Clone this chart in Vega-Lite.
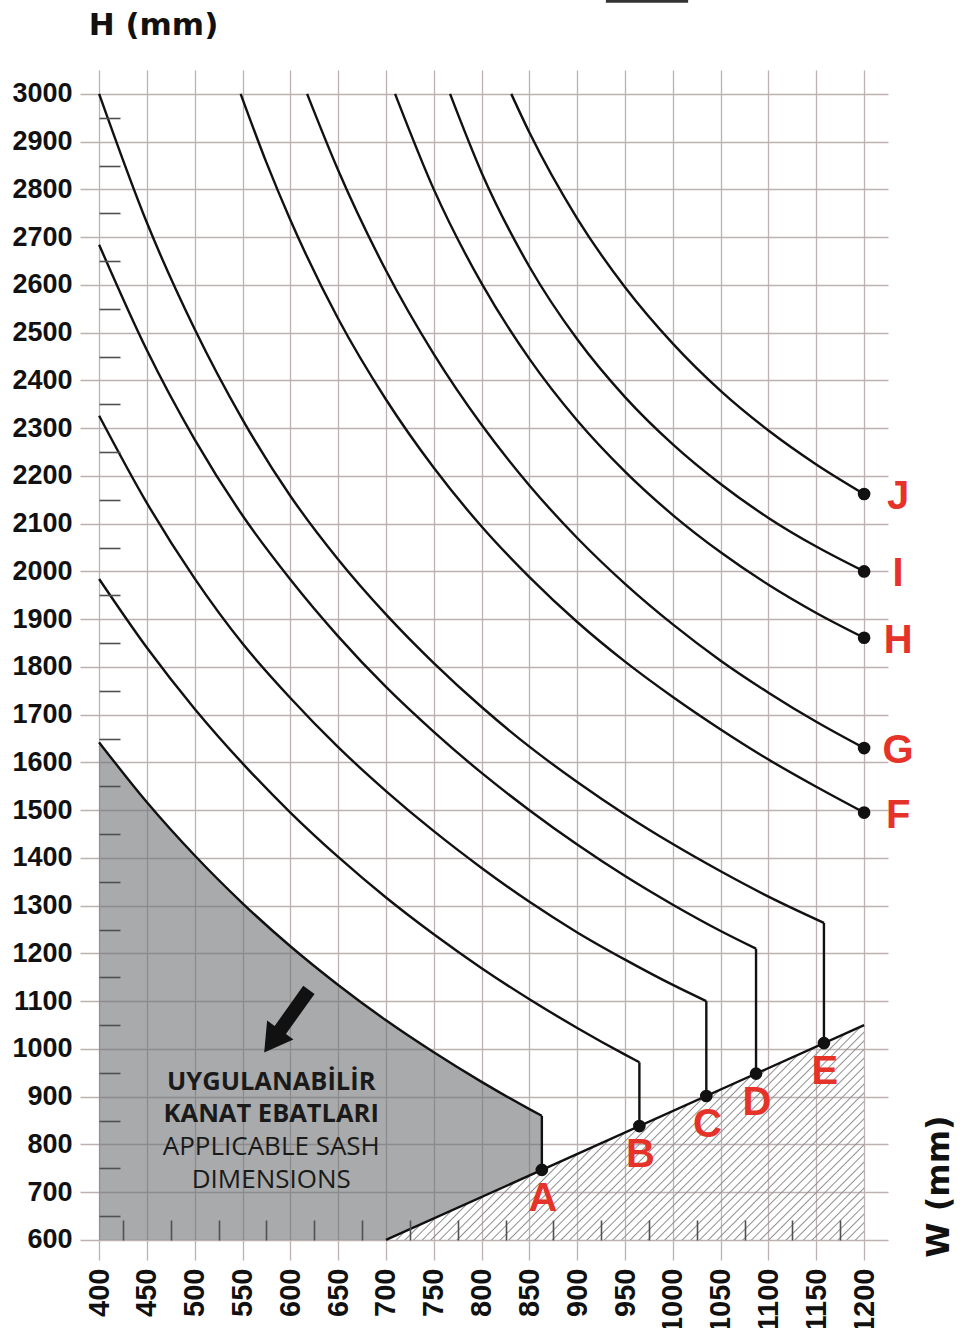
{
"$schema": "https://vega.github.io/schema/vega-lite/v6.json",
"width": 808, "height": 1190,
"autosize": {"type": "none"},
"padding": {"left": 80, "top": 70, "right": 85, "bottom": 68},
"background": "white",
"config": {"view": {"stroke": null}},
"data": {"values": [{}]},
"datasets": {
 "gray": [{"W":400,"H":1642,"lo":600},{"W":450,"H":1516.5,"lo":600},{"W":500,"H":1405,"lo":600},{"W":550,"H":1305,"lo":600},{"W":600,"H":1215,"lo":600},{"W":650,"H":1134,"lo":600},{"W":700,"H":1060,"lo":600},{"W":750,"H":993,"lo":645},{"W":800,"H":931,"lo":690},{"W":850,"H":874,"lo":735},{"W":863,"H":860,"lo":746.7}],
 "hatch": [{"W":700,"H":600,"lo":600},{"W":1200,"H":1050,"lo":600}],
 "curves": [
  {"c":"A","W":400,"H":1642},{"c":"A","W":450,"H":1516.5},{"c":"A","W":500,"H":1405},{"c":"A","W":550,"H":1305},{"c":"A","W":600,"H":1215},{"c":"A","W":650,"H":1134},{"c":"A","W":700,"H":1060},{"c":"A","W":750,"H":993},{"c":"A","W":800,"H":931},{"c":"A","W":850,"H":874},{"c":"A","W":863,"H":860},
  {"c":"B","W":400,"H":1984},{"c":"B","W":450,"H":1840},{"c":"B","W":500,"H":1712},{"c":"B","W":550,"H":1598},{"c":"B","W":600,"H":1495},{"c":"B","W":650,"H":1402},{"c":"B","W":700,"H":1317},{"c":"B","W":750,"H":1240},{"c":"B","W":800,"H":1169},{"c":"B","W":850,"H":1104},{"c":"B","W":900,"H":1044},{"c":"B","W":950,"H":988},{"c":"B","W":965,"H":972},
  {"c":"C","W":400,"H":2326},{"c":"C","W":450,"H":2143},{"c":"C","W":500,"H":1985},{"c":"C","W":550,"H":1849},{"c":"C","W":600,"H":1735},{"c":"C","W":650,"H":1632},{"c":"C","W":700,"H":1540},{"c":"C","W":750,"H":1456},{"c":"C","W":800,"H":1379},{"c":"C","W":850,"H":1308},{"c":"C","W":900,"H":1244},{"c":"C","W":950,"H":1187},{"c":"C","W":1000,"H":1134},{"c":"C","W":1035,"H":1100},
  {"c":"D","W":400,"H":2684},{"c":"D","W":450,"H":2463},{"c":"D","W":500,"H":2276},{"c":"D","W":550,"H":2117},{"c":"D","W":600,"H":1983},{"c":"D","W":650,"H":1864},{"c":"D","W":700,"H":1758},{"c":"D","W":750,"H":1664},{"c":"D","W":800,"H":1578},{"c":"D","W":850,"H":1500},{"c":"D","W":900,"H":1428},{"c":"D","W":950,"H":1362},{"c":"D","W":1000,"H":1302},{"c":"D","W":1050,"H":1247},{"c":"D","W":1087,"H":1210},
  {"c":"E","W":400,"H":3000},{"c":"E","W":450,"H":2730},{"c":"E","W":500,"H":2507},{"c":"E","W":550,"H":2318},{"c":"E","W":600,"H":2158},{"c":"E","W":650,"H":2025},{"c":"E","W":700,"H":1910},{"c":"E","W":750,"H":1808},{"c":"E","W":800,"H":1716},{"c":"E","W":850,"H":1633},{"c":"E","W":900,"H":1559},{"c":"E","W":950,"H":1491},{"c":"E","W":1000,"H":1429},{"c":"E","W":1050,"H":1372},{"c":"E","W":1100,"H":1319},{"c":"E","W":1158,"H":1264},
  {"c":"F","W":548,"H":3000},{"c":"F","W":575,"H":2856},{"c":"F","W":600,"H":2736},{"c":"F","W":650,"H":2529},{"c":"F","W":700,"H":2360},{"c":"F","W":750,"H":2217},{"c":"F","W":800,"H":2094},{"c":"F","W":850,"H":1988},{"c":"F","W":900,"H":1894},{"c":"F","W":950,"H":1811},{"c":"F","W":1000,"H":1737},{"c":"F","W":1050,"H":1669},{"c":"F","W":1100,"H":1606},{"c":"F","W":1150,"H":1549},{"c":"F","W":1200,"H":1495},
  {"c":"G","W":617.5,"H":3000},{"c":"G","W":650,"H":2840},{"c":"G","W":700,"H":2630},{"c":"G","W":750,"H":2455},{"c":"G","W":800,"H":2307},{"c":"G","W":850,"H":2180},{"c":"G","W":900,"H":2070},{"c":"G","W":950,"H":1974},{"c":"G","W":1000,"H":1889},{"c":"G","W":1050,"H":1813},{"c":"G","W":1100,"H":1746},{"c":"G","W":1150,"H":1685},{"c":"G","W":1200,"H":1630},
  {"c":"H","W":709.5,"H":3000},{"c":"H","W":750,"H":2800},{"c":"H","W":800,"H":2603},{"c":"H","W":850,"H":2445},{"c":"H","W":900,"H":2316},{"c":"H","W":950,"H":2209},{"c":"H","W":1000,"H":2118},{"c":"H","W":1050,"H":2040},{"c":"H","W":1100,"H":1972},{"c":"H","W":1150,"H":1913},{"c":"H","W":1200,"H":1861},
  {"c":"I","W":767,"H":3000},{"c":"I","W":800,"H":2835},{"c":"I","W":850,"H":2638},{"c":"I","W":900,"H":2486},{"c":"I","W":950,"H":2365},{"c":"I","W":1000,"H":2266},{"c":"I","W":1050,"H":2183},{"c":"I","W":1100,"H":2112},{"c":"I","W":1150,"H":2052},{"c":"I","W":1200,"H":2000},
  {"c":"J","W":831,"H":3000},{"c":"J","W":850,"H":2919},{"c":"J","W":900,"H":2739},{"c":"J","W":950,"H":2595},{"c":"J","W":1000,"H":2477},{"c":"J","W":1050,"H":2378},{"c":"J","W":1100,"H":2295},{"c":"J","W":1150,"H":2224},{"c":"J","W":1200,"H":2162}
 ],
 "verticals": [{"c":"A","W":863,"H":860,"H2":746.7},{"c":"B","W":965,"H":972,"H2":838.5},{"c":"C","W":1035,"H":1100,"H2":901.5},{"c":"D","W":1087,"H":1210,"H2":948.3},{"c":"E","W":1158,"H":1264,"H2":1012.2}],
 "points": [{"p":"A","W":863,"H":746.7,"g":"low"},{"p":"B","W":965,"H":838.5,"g":"low"},{"p":"C","W":1035,"H":901.5,"g":"low"},{"p":"D","W":1087,"H":948.3,"g":"low"},{"p":"E","W":1158,"H":1012.2,"g":"low"},{"p":"F","W":1200,"H":1495,"g":"high"},{"p":"G","W":1200,"H":1630,"g":"high"},{"p":"H","W":1200,"H":1861,"g":"high"},{"p":"I","W":1200,"H":2000,"g":"high"},{"p":"J","W":1200,"H":2162,"g":"high"}],
 "noteTr": [{"t":"UYGULANABİLİR","W":580,"H":931},{"t":"KANAT EBATLARI","W":580,"H":864}],
 "noteEn": [{"t":"APPLICABLE SASH","W":580,"H":795},{"t":"DIMENSIONS","W":580,"H":726}],
 "arrow": [{"W":596,"H":1058}],
 "topline": [{"W":930,"W2":1016,"H":3194}]
},
"encoding": {
 "x": {"field": "W", "type": "quantitative", "scale": {"domain": [380, 1225], "nice": false, "zero": false}, "axis": null},
 "y": {"field": "H", "type": "quantitative", "scale": {"domain": [558, 3050], "nice": false, "zero": false}, "axis": null}
},
"layer": [
 {
  "data": {"name": "gray"},
  "mark": {"type": "area", "interpolate": "linear", "color": "#6e7175", "fillOpacity": 0.6},
  "encoding": {
   "x": {"field": "W", "type": "quantitative", "scale": {"domain": [380, 1225], "nice": false, "zero": false},
    "axis": {"orient": "bottom", "values": [400,450,500,550,600,650,700,750,800,850,900,950,1000,1050,1100,1150,1200], "format": "d",
     "grid": true, "gridColor": "#bdb1b1", "gridWidth": 1.3, "domain": false, "ticks": false, "tickSize": 0,
     "labelAngle": 270, "labelAlign": "right", "labelBaseline": "middle", "labelPadding": 8,
     "labelFont": "Liberation Sans", "labelFontWeight": "bold", "labelFontSize": 29, "labelColor": "#111",
     "labelOverlap": false, "labelFlush": false,
     "title": "W (mm)", "titleFont": "DejaVu Sans", "titleFontWeight": "bold", "titleFontSize": 32, "titleColor": "#111",
     "titleAngle": 270, "titleAlign": "center", "titleBaseline": "middle", "titleX": 858, "titleY": -74}},
   "y": {"field": "H", "type": "quantitative", "scale": {"domain": [558, 3050], "nice": false, "zero": false},
    "axis": {"orient": "left", "values": [600,700,800,900,1000,1100,1200,1300,1400,1500,1600,1700,1800,1900,2000,2100,2200,2300,2400,2500,2600,2700,2800,2900,3000], "format": "d",
     "grid": true, "gridColor": "#bdb1b1", "gridWidth": 1.3, "domain": false, "ticks": false, "tickSize": 0,
     "labelPadding": 8, "labelFont": "Liberation Sans", "labelFontWeight": "bold", "labelFontSize": 27, "labelColor": "#111",
     "labelOverlap": false, "labelFlush": false,
     "title": "H (mm)", "titleFont": "DejaVu Sans", "titleFontWeight": "bold", "titleFontSize": 31, "titleColor": "#111",
     "titleAngle": 0, "titleAlign": "center", "titleBaseline": "middle", "titleX": 73, "titleY": -45}},
   "y2": {"field": "lo"}
  }
 },
 {
  "data": {"name": "hatch"},
  "mark": {"type": "area", "interpolate": "linear",
   "fill": {"gradient": "linear", "x1": 0, "y1": 0, "x2": 1.206, "y2": 0.542, "stops": [
    {"offset":0,"color":"#8e8e8e00"},
    {"offset":0.3105,"color":"#8e8e8e00"},{"offset":0.3125,"color":"#8e8e8e"},{"offset":0.3145,"color":"#8e8e8e00"},
    {"offset":0.323,"color":"#8e8e8e00"},{"offset":0.325,"color":"#8e8e8e"},{"offset":0.327,"color":"#8e8e8e00"},
    {"offset":0.3355,"color":"#8e8e8e00"},{"offset":0.3375,"color":"#8e8e8e"},{"offset":0.3395,"color":"#8e8e8e00"},
    {"offset":0.348,"color":"#8e8e8e00"},{"offset":0.35,"color":"#8e8e8e"},{"offset":0.352,"color":"#8e8e8e00"},
    {"offset":0.3605,"color":"#8e8e8e00"},{"offset":0.3625,"color":"#8e8e8e"},{"offset":0.3645,"color":"#8e8e8e00"},
    {"offset":0.373,"color":"#8e8e8e00"},{"offset":0.375,"color":"#8e8e8e"},{"offset":0.377,"color":"#8e8e8e00"},
    {"offset":0.3855,"color":"#8e8e8e00"},{"offset":0.3875,"color":"#8e8e8e"},{"offset":0.3895,"color":"#8e8e8e00"},
    {"offset":0.398,"color":"#8e8e8e00"},{"offset":0.4,"color":"#8e8e8e"},{"offset":0.402,"color":"#8e8e8e00"},
    {"offset":0.4105,"color":"#8e8e8e00"},{"offset":0.4125,"color":"#8e8e8e"},{"offset":0.4145,"color":"#8e8e8e00"},
    {"offset":0.423,"color":"#8e8e8e00"},{"offset":0.425,"color":"#8e8e8e"},{"offset":0.427,"color":"#8e8e8e00"},
    {"offset":0.4355,"color":"#8e8e8e00"},{"offset":0.4375,"color":"#8e8e8e"},{"offset":0.4395,"color":"#8e8e8e00"},
    {"offset":0.448,"color":"#8e8e8e00"},{"offset":0.45,"color":"#8e8e8e"},{"offset":0.452,"color":"#8e8e8e00"},
    {"offset":0.4605,"color":"#8e8e8e00"},{"offset":0.4625,"color":"#8e8e8e"},{"offset":0.4645,"color":"#8e8e8e00"},
    {"offset":0.473,"color":"#8e8e8e00"},{"offset":0.475,"color":"#8e8e8e"},{"offset":0.477,"color":"#8e8e8e00"},
    {"offset":0.4855,"color":"#8e8e8e00"},{"offset":0.4875,"color":"#8e8e8e"},{"offset":0.4895,"color":"#8e8e8e00"},
    {"offset":0.498,"color":"#8e8e8e00"},{"offset":0.5,"color":"#8e8e8e"},{"offset":0.502,"color":"#8e8e8e00"},
    {"offset":0.5105,"color":"#8e8e8e00"},{"offset":0.5125,"color":"#8e8e8e"},{"offset":0.5145,"color":"#8e8e8e00"},
    {"offset":0.523,"color":"#8e8e8e00"},{"offset":0.525,"color":"#8e8e8e"},{"offset":0.527,"color":"#8e8e8e00"},
    {"offset":0.5355,"color":"#8e8e8e00"},{"offset":0.5375,"color":"#8e8e8e"},{"offset":0.5395,"color":"#8e8e8e00"},
    {"offset":0.548,"color":"#8e8e8e00"},{"offset":0.55,"color":"#8e8e8e"},{"offset":0.552,"color":"#8e8e8e00"},
    {"offset":0.5605,"color":"#8e8e8e00"},{"offset":0.5625,"color":"#8e8e8e"},{"offset":0.5645,"color":"#8e8e8e00"},
    {"offset":0.573,"color":"#8e8e8e00"},{"offset":0.575,"color":"#8e8e8e"},{"offset":0.577,"color":"#8e8e8e00"},
    {"offset":0.5855,"color":"#8e8e8e00"},{"offset":0.5875,"color":"#8e8e8e"},{"offset":0.5895,"color":"#8e8e8e00"},
    {"offset":0.598,"color":"#8e8e8e00"},{"offset":0.6,"color":"#8e8e8e"},{"offset":0.602,"color":"#8e8e8e00"},
    {"offset":0.6105,"color":"#8e8e8e00"},{"offset":0.6125,"color":"#8e8e8e"},{"offset":0.6145,"color":"#8e8e8e00"},
    {"offset":0.623,"color":"#8e8e8e00"},{"offset":0.625,"color":"#8e8e8e"},{"offset":0.627,"color":"#8e8e8e00"},
    {"offset":0.6355,"color":"#8e8e8e00"},{"offset":0.6375,"color":"#8e8e8e"},{"offset":0.6395,"color":"#8e8e8e00"},
    {"offset":0.648,"color":"#8e8e8e00"},{"offset":0.65,"color":"#8e8e8e"},{"offset":0.652,"color":"#8e8e8e00"},
    {"offset":0.6605,"color":"#8e8e8e00"},{"offset":0.6625,"color":"#8e8e8e"},{"offset":0.6645,"color":"#8e8e8e00"},
    {"offset":0.673,"color":"#8e8e8e00"},{"offset":0.675,"color":"#8e8e8e"},{"offset":0.677,"color":"#8e8e8e00"},
    {"offset":0.6855,"color":"#8e8e8e00"},{"offset":0.6875,"color":"#8e8e8e"},{"offset":0.6895,"color":"#8e8e8e00"},
    {"offset":0.698,"color":"#8e8e8e00"},{"offset":0.7,"color":"#8e8e8e"},{"offset":0.702,"color":"#8e8e8e00"},
    {"offset":0.7105,"color":"#8e8e8e00"},{"offset":0.7125,"color":"#8e8e8e"},{"offset":0.7145,"color":"#8e8e8e00"},
    {"offset":0.723,"color":"#8e8e8e00"},{"offset":0.725,"color":"#8e8e8e"},{"offset":0.727,"color":"#8e8e8e00"},
    {"offset":0.7355,"color":"#8e8e8e00"},{"offset":0.7375,"color":"#8e8e8e"},{"offset":0.7395,"color":"#8e8e8e00"},
    {"offset":0.748,"color":"#8e8e8e00"},{"offset":0.75,"color":"#8e8e8e"},{"offset":0.752,"color":"#8e8e8e00"},
    {"offset":0.7605,"color":"#8e8e8e00"},{"offset":0.7625,"color":"#8e8e8e"},{"offset":0.7645,"color":"#8e8e8e00"},
    {"offset":0.773,"color":"#8e8e8e00"},{"offset":0.775,"color":"#8e8e8e"},{"offset":0.777,"color":"#8e8e8e00"},
    {"offset":0.7855,"color":"#8e8e8e00"},{"offset":0.7875,"color":"#8e8e8e"},{"offset":0.7895,"color":"#8e8e8e00"},
    {"offset":0.798,"color":"#8e8e8e00"},{"offset":0.8,"color":"#8e8e8e"},{"offset":0.802,"color":"#8e8e8e00"},
    {"offset":0.8105,"color":"#8e8e8e00"},{"offset":0.8125,"color":"#8e8e8e"},{"offset":0.8145,"color":"#8e8e8e00"},
    {"offset":0.823,"color":"#8e8e8e00"},{"offset":0.825,"color":"#8e8e8e"},{"offset":0.827,"color":"#8e8e8e00"},
    {"offset":0.8355,"color":"#8e8e8e00"},{"offset":0.8375,"color":"#8e8e8e"},{"offset":0.8395,"color":"#8e8e8e00"},
    {"offset":0.848,"color":"#8e8e8e00"},{"offset":0.85,"color":"#8e8e8e"},{"offset":0.852,"color":"#8e8e8e00"},
    {"offset":0.8605,"color":"#8e8e8e00"},{"offset":0.8625,"color":"#8e8e8e"},{"offset":0.8645,"color":"#8e8e8e00"},
    {"offset":0.873,"color":"#8e8e8e00"},{"offset":0.875,"color":"#8e8e8e"},{"offset":0.877,"color":"#8e8e8e00"},
    {"offset":0.8855,"color":"#8e8e8e00"},{"offset":0.8875,"color":"#8e8e8e"},{"offset":0.8895,"color":"#8e8e8e00"},
    {"offset":0.898,"color":"#8e8e8e00"},{"offset":0.9,"color":"#8e8e8e"},{"offset":0.902,"color":"#8e8e8e00"},
    {"offset":0.9105,"color":"#8e8e8e00"},{"offset":0.9125,"color":"#8e8e8e"},{"offset":0.9145,"color":"#8e8e8e00"},
    {"offset":0.923,"color":"#8e8e8e00"},{"offset":0.925,"color":"#8e8e8e"},{"offset":0.927,"color":"#8e8e8e00"},
    {"offset":0.9355,"color":"#8e8e8e00"},{"offset":0.9375,"color":"#8e8e8e"},{"offset":0.9395,"color":"#8e8e8e00"},
    {"offset":0.948,"color":"#8e8e8e00"},{"offset":0.95,"color":"#8e8e8e"},{"offset":0.952,"color":"#8e8e8e00"},
    {"offset":0.9605,"color":"#8e8e8e00"},{"offset":0.9625,"color":"#8e8e8e"},{"offset":0.9645,"color":"#8e8e8e00"},
    {"offset":0.973,"color":"#8e8e8e00"},{"offset":0.975,"color":"#8e8e8e"},{"offset":0.977,"color":"#8e8e8e00"},
    {"offset":0.9855,"color":"#8e8e8e00"},{"offset":0.9875,"color":"#8e8e8e"},{"offset":0.9895,"color":"#8e8e8e00"},
    {"offset":1,"color":"#8e8e8e00"}
   ]}},
  "encoding": {
   "x": {"field": "W", "type": "quantitative", "scale": {"domain": [380, 1225], "nice": false, "zero": false},
    "axis": {"orient": "bottom", "values": [425,475,525,575,625,675,725,775,825,875,925,975,1025,1075,1125,1175],
     "grid": false, "labels": false, "domain": false, "ticks": true, "tickSize": -20, "tickWidth": 1.6, "tickColor": "#505050",
     "offset": -20, "title": null, "zindex": 1}},
   "y": {"field": "H", "type": "quantitative", "scale": {"domain": [558, 3050], "nice": false, "zero": false},
    "axis": {"orient": "left", "values": [650,750,850,950,1050,1150,1250,1350,1450,1550,1650,1750,1850,1950,2050,2150,2250,2350,2450,2550,2650,2750,2850,2950],
     "grid": false, "labels": false, "domain": false, "ticks": true, "tickSize": -21, "tickWidth": 1.6, "tickColor": "#505050",
     "offset": -19, "title": null, "zindex": 1}},
   "y2": {"field": "lo"}
  }
 },
 {
  "data": {"name": "noteTr"},
  "mark": {"type": "text", "font": "Open Sans", "fontWeight": "bold", "fontSize": 25.5, "align": "center", "baseline": "middle", "color": "#1a1a1a"},
  "encoding": {"text": {"field": "t"}}
 },
 {
  "data": {"name": "noteEn"},
  "mark": {"type": "text", "font": "Open Sans", "fontWeight": "normal", "fontSize": 26, "align": "center", "baseline": "middle", "color": "#1a1a1a"},
  "encoding": {"text": {"field": "t"}}
 },
 {
  "data": {"name": "arrow"},
  "mark": {"type": "point", "shape": "M-1,-0.18L0.28,-0.18L0.28,-0.42L1,0L0.28,0.42L0.28,0.18L-1,0.18Z", "size": 5929, "angle": 125.5, "filled": true, "color": "#111", "opacity": 1}
 },
 {
  "data": {"name": "topline"},
  "mark": {"type": "rule", "color": "#333", "strokeWidth": 3},
  "encoding": {"x2": {"field": "W2"}}
 },
 {
  "data": {"name": "curves"},
  "mark": {"type": "line", "interpolate": "monotone", "color": "#111", "strokeWidth": 2.4},
  "encoding": {"detail": {"field": "c"}}
 },
 {
  "data": {"name": "verticals"},
  "mark": {"type": "rule", "color": "#111", "strokeWidth": 2.4},
  "encoding": {"y2": {"field": "H2"}}
 },
 {
  "data": {"name": "hatch"},
  "mark": {"type": "line", "color": "#111", "strokeWidth": 2.4},
  "encoding": {}
 },
 {
  "mark": {"type": "rule", "color": "#4a4a4a", "strokeWidth": 1.6},
  "encoding": {
   "x": {"datum": 400, "type": "quantitative", "scale": {"domain": [380, 1225], "nice": false, "zero": false}, "axis": null},
   "y": {"datum": 600, "type": "quantitative", "scale": {"domain": [558, 3050], "nice": false, "zero": false}, "axis": null},
   "y2": {"datum": 3050}
  }
 },
 {
  "mark": {"type": "rule", "color": "#4a4a4a", "strokeWidth": 1.6},
  "encoding": {
   "x": {"datum": 400, "type": "quantitative", "scale": {"domain": [380, 1225], "nice": false, "zero": false}, "axis": null},
   "x2": {"datum": 1225},
   "y": {"datum": 600, "type": "quantitative", "scale": {"domain": [558, 3050], "nice": false, "zero": false}, "axis": null}
  }
 },
 {
  "mark": {"type": "point", "shape": "triangle-up", "size": 484, "filled": true, "fill": "white", "stroke": "#4a4a4a", "strokeWidth": 1.5, "opacity": 1},
  "encoding": {
   "x": {"datum": 400, "type": "quantitative", "scale": {"domain": [380, 1225], "nice": false, "zero": false}, "axis": null},
   "y": {"datum": 3071, "type": "quantitative", "scale": {"domain": [558, 3050], "nice": false, "zero": false}, "axis": null}
  }
 },
 {
  "mark": {"type": "point", "shape": "triangle-right", "size": 484, "filled": true, "fill": "white", "stroke": "#4a4a4a", "strokeWidth": 1.5, "opacity": 1},
  "encoding": {
   "x": {"datum": 1235.5, "type": "quantitative", "scale": {"domain": [380, 1225], "nice": false, "zero": false}, "axis": null},
   "y": {"datum": 600, "type": "quantitative", "scale": {"domain": [558, 3050], "nice": false, "zero": false}, "axis": null}
  }
 },
 {
  "data": {"name": "points"},
  "mark": {"type": "point", "shape": "circle", "size": 160, "filled": true, "color": "#111", "opacity": 1}
 },
 {
  "data": {"name": "points"},
  "transform": [{"filter": "datum.g === 'low'"}],
  "mark": {"type": "text", "font": "Liberation Sans", "fontWeight": "bold", "fontSize": 40, "color": "#e63329", "align": "center", "baseline": "middle", "dx": 1, "dy": 29},
  "encoding": {"text": {"field": "p"}}
 },
 {
  "data": {"name": "points"},
  "transform": [{"filter": "datum.g === 'high'"}],
  "mark": {"type": "text", "font": "Liberation Sans", "fontWeight": "bold", "fontSize": 40, "color": "#e63329", "align": "center", "baseline": "middle", "dx": 34, "dy": 3},
  "encoding": {"text": {"field": "p"}}
 }
],
"resolve": {"axis": {"x": "independent", "y": "independent"}}
}
